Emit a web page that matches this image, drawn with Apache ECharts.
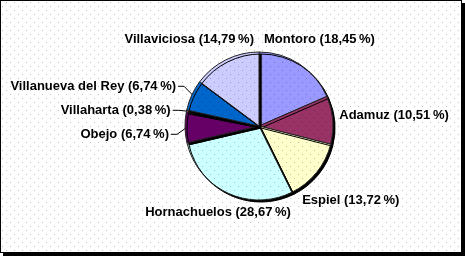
<!DOCTYPE html>
<html><head><meta charset="utf-8">
<script src="https://cdn.jsdelivr.net/npm/echarts@6/dist/echarts.min.js"></script>
<style>
html,body{margin:0;padding:0;background:#fff;width:465px;height:256px;overflow:hidden}
#frame{position:absolute;left:0;top:0;width:460px;height:251px;border:1px solid #000;box-shadow:3px 3px 0 #000;background:#fff}
#chart{position:absolute;left:0;top:0;width:465px;height:256px}
#dots{position:absolute;left:1px;top:1px;width:460px;height:251px;pointer-events:none;background-position:-1px -1px;background-repeat:repeat}
</style></head><body>
<div id="frame"></div>
<div id="chart"></div>
<div id="dots"></div>
<script>
var categories = ['Montoro', 'Adamuz', 'Espiel', 'Hornachuelos', 'Obejo', 'Villaharta', 'Villanueva del Rey', 'Villaviciosa'];
var percentages = [18.45, 10.51, 13.72, 28.67, 6.74, 0.38, 6.74, 14.79];

// dotted background overlay
(function(){
  var c = document.createElement('canvas'); c.width = 8; c.height = 8;
  var g = c.getContext('2d'); g.fillStyle = 'rgba(0,0,0,0.24)';
  g.fillRect(6, 2, 1, 1); g.fillRect(2, 6, 1, 1);
  document.getElementById('dots').style.backgroundImage = 'url(' + c.toDataURL() + ')';
})();

var CX = 259, CY = 126, R = 74, GAP = 6, SMALL = 8, MID_MARGIN = 5;
var total = percentages.reduce(function(a, b){ return a + b; }, 0);
var mids = [], acc = 0;
percentages.forEach(function(v){ mids.push((acc + v / 2) / total * 360); acc += v; });
function dir(i){ var a = mids[i] * Math.PI / 180; return [Math.sin(a), -Math.cos(a)]; }

// leader-line labels: spread vertically to avoid overlap
var leaderY = {};
(function(){
  var idx = [];
  percentages.forEach(function(v, i){ if (v < SMALL) idx.push(i); });
  var ys = idx.map(function(i){ return CY + (R + 4) * dir(i)[1]; });
  var order = idx.map(function(_, k){ return k; }).sort(function(a, b){ return ys[a] - ys[b]; });
  var mean = ys.reduce(function(a, b){ return a + b; }, 0) / ys.length;
  var sp = 24, n = order.length;
  order.forEach(function(k, j){ leaderY[idx[k]] = mean + (j - (n - 1) / 2) * sp; });
})();

function fmt(v){ return v.toFixed(2).replace('.', ',') + '\u2009%'; }
function nearDist(cx, cy, w, h){
  var nx = Math.max(cx - w / 2, Math.min(CX, cx + w / 2));
  var ny = Math.max(cy - h / 2, Math.min(CY, cy + h / 2));
  return Math.hypot(nx - CX, ny - CY);
}

var chart = echarts.init(document.getElementById('chart'), null, {renderer: 'canvas'});
chart.setOption({
  animation: false,
  color: ['#9999FF', '#993366', '#FFFFCC', '#CCFFFF', '#660066', '#FF8080', '#0066CC', '#CCCCFF'],
  series: [{
    type: 'pie',
    center: [CX, CY],
    radius: R,
    startAngle: 90,
    clockwise: true,
    silent: true,
    avoidLabelOverlap: false,
    emphasis: {disabled: true},
    itemStyle: {borderColor: '#222', borderWidth: 1, shadowColor: '#000', shadowBlur: 0, shadowOffsetX: 2, shadowOffsetY: 2},
    label: {
      show: true, position: 'outside', color: '#000', fontWeight: 'bold', fontSize: 13,
      fontFamily: '"Liberation Sans", Arial, sans-serif',
      formatter: function(p){ return p.name + ' (' + fmt(p.value) + ')'; }
    },
    labelLine: {show: true, length: 5, length2: 5, smooth: false, lineStyle: {color: '#000', width: 1}},
    labelLayout: function(p){
      var i = p.dataIndex, u = dir(i);
      var w = p.labelRect.width, h = 13;
      if (percentages[i] < SMALL) {
        var ax = CX + (R + 4) * u[0];
        var y = leaderY[i];
        var right = ax - 12;
        var ex = CX + (R - 2) * u[0], ey = CY + (R - 2) * u[1];
        return {x: right, y: y, align: 'right', verticalAlign: 'middle',
          labelLinePoints: [[ex, ey], [right + 8, y], [right + 2, y]]};
      }
      var D = 0, cx, cy, k;
      for (k = 0; k < 2000; k++) {
        cx = CX + D * u[0]; cy = CY + D * u[1];
        if (nearDist(cx, cy, w, h) >= R + GAP) break;
        D += 0.5;
      }
      // labels above the pie stay on their own side of the vertical axis
      if (u[1] < -0.5) {
        if (u[0] > 0 && cx - w / 2 < CX + MID_MARGIN) cx = CX + MID_MARGIN + w / 2;
        if (u[0] < 0 && cx + w / 2 > CX - MID_MARGIN) cx = CX - MID_MARGIN - w / 2;
        cy = CY;
        for (k = 0; k < 2000; k++) {
          if (nearDist(cx, cy, w, h) >= R + GAP) break;
          cy -= 0.5;
        }
      }
      return {x: cx, y: cy, align: 'center', verticalAlign: 'middle'};
    },
    data: categories.map(function(name, i){
      return {name: name, value: percentages[i], labelLine: {show: percentages[i] < SMALL}};
    })
  }]
});
</script>
</body></html>
